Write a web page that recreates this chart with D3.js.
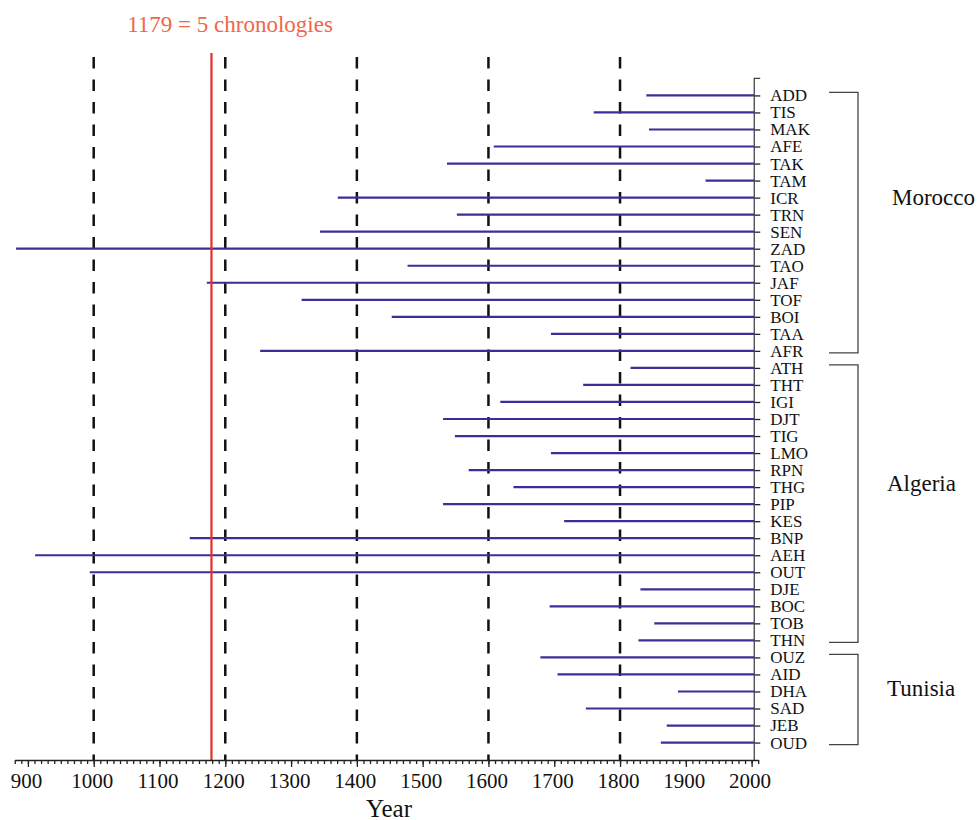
<!DOCTYPE html>
<html lang="en">
<head>
    <meta charset="UTF-8">
    <title>Chronologies</title>
    <script src="https://cdn.jsdelivr.net/npm/d3@7"></script>
    <style>
        body {
            margin: 0;
            background-color: #fff;
        }

        text {
            font-family: "Liberation Serif", "Times New Roman", serif;
            fill: #111;
        }

        .span {
            stroke: #3a2e98;
            stroke-width: 2.2px;
        }

        .ref {
            stroke: #111;
            stroke-width: 2.5px;
            stroke-dasharray: 11.5 11;
        }

        .axis path, .axis line {
            stroke: #222;
            stroke-width: 1.3px;
        }

        .bracket {
            fill: none;
            stroke: #444;
            stroke-width: 1.3px;
        }
    </style>
</head>
<body>
    <script>
        // chronology codes, top to bottom
        const sites = [
            "ADD", "TIS", "MAK", "AFE", "TAK", "TAM", "ICR", "TRN", "SEN", "ZAD",
            "TAO", "JAF", "TOF", "BOI", "TAA", "AFR",
            "ATH", "THT", "IGI", "DJT", "TIG", "LMO", "RPN", "THG", "PIP", "KES",
            "BNP", "AEH", "OUT", "DJE", "BOC", "TOB", "THN",
            "OUZ", "AID", "DHA", "SAD", "JEB", "OUD"
        ];

        // first year of each chronology (all run to the present)
        const startYears = [
            1840, 1760, 1844, 1608, 1537, 1930, 1371, 1552, 1344, 882,
            1477, 1172, 1316, 1453, 1695, 1253,
            1816, 1744, 1618, 1531, 1549, 1695, 1570, 1638, 1531, 1715,
            1146, 911, 994, 1831, 1693, 1852, 1828,
            1679, 1705, 1888, 1748, 1871, 1862
        ];
        const endYear = 2004;

        // countries: first and last site of each group
        const countries = ["Morocco", "Algeria", "Tunisia"];
        const groupFirst = ["ADD", "ATH", "OUZ"];
        const groupLast = ["AFR", "THN", "OUD"];

        const refYears = [1000, 1200, 1400, 1600, 1800];
        const markYear = 1179;
        const markLabel = "1179 = 5 chronologies";

        const majorTicks = d3.range(900, 2001, 100);
        const minorTicks = d3.range(880, 2011, 10);

        const width = 979, height = 820;

        const svg = d3.select("body").append("svg")
            .attr("width", width)
            .attr("height", height);

        const x = d3.scaleLinear().domain([880, 2010]).range([14.75, 758.2]);
        const y = d3.scalePoint().domain(sites).range([78.4, 759.6]).padding(1);

        const axisY = 760;
        const topY = y(sites[0]) - y.step();

        // reference dashed lines
        svg.selectAll(".ref")
            .data(refYears)
            .join("line")
            .attr("class", "ref")
            .attr("x1", d => x(d)).attr("x2", d => x(d))
            .attr("y1", 57).attr("y2", axisY);

        // chronology spans
        svg.selectAll(".span")
            .data(sites)
            .join("line")
            .attr("class", "span")
            .attr("x1", (d, i) => x(startYears[i]))
            .attr("x2", x(endYear))
            .attr("y1", d => y(d)).attr("y2", d => y(d));

        // red marker
        svg.append("line")
            .attr("x1", x(markYear)).attr("x2", x(markYear))
            .attr("y1", 53).attr("y2", axisY)
            .attr("stroke", "#e03028")
            .attr("stroke-width", 2.2);

        svg.append("text")
            .attr("x", 230).attr("y", 31.5)
            .attr("text-anchor", "middle")
            .style("font-size", "23px")
            .style("fill", "#f0664a")
            .text(markLabel);

        // x axis: minor then major ticks
        svg.append("g")
            .attr("class", "axis")
            .attr("transform", `translate(0,${axisY})`)
            .call(d3.axisBottom(x).tickValues(minorTicks).tickSize(4).tickSizeOuter(0).tickFormat(""));

        const xAxis = svg.append("g")
            .attr("class", "axis")
            .attr("transform", `translate(0,${axisY})`)
            .call(d3.axisBottom(x).tickValues(majorTicks).tickSize(7).tickSizeOuter(0).tickFormat(d3.format("d")));
        xAxis.select(".domain").remove();
        xAxis.selectAll("text")
            .attr("y", 28.3).attr("dy", null)
            .attr("x", -2)
            .style("font-size", "21px")
            .style("font-family", "Liberation Serif, serif")
            .attr("fill", "#111");

        svg.append("text")
            .attr("x", 389).attr("y", 817)
            .attr("text-anchor", "middle")
            .style("font-size", "25px")
            .text("Year");

        // site axis on the right
        const yAxis = svg.append("g")
            .attr("class", "axis")
            .attr("transform", `translate(${x(endYear)},0)`)
            .call(d3.axisRight(y).tickSize(6).tickSizeOuter(0).tickPadding(10));
        yAxis.select(".domain").remove();
        yAxis.selectAll("text")
            .style("font-size", "17px")
            .style("font-family", "Liberation Serif, serif")
            .attr("fill", "#111");

        svg.append("path")
            .attr("class", "bracket")
            .attr("d", `M${x(endYear) + 6},${topY}H${x(endYear)}V${axisY}`);

        // country brackets
        const labelDy = [-26, -21, -11];
        countries.forEach((name, i) => {
            const y0 = y(groupFirst[i]) - 3;
            const y1 = y(groupLast[i]) + 2;
            svg.append("path")
                .attr("class", "bracket")
                .attr("d", `M829,${y0}H858V${y1}H829`);
            svg.append("text")
                .attr("x", i === 0 ? 892 : 887)
                .attr("y", (y0 + y1) / 2 + 8 + labelDy[i])
                .style("font-size", "23px")
                .text(name);
        });
    </script>
</body>
</html>
